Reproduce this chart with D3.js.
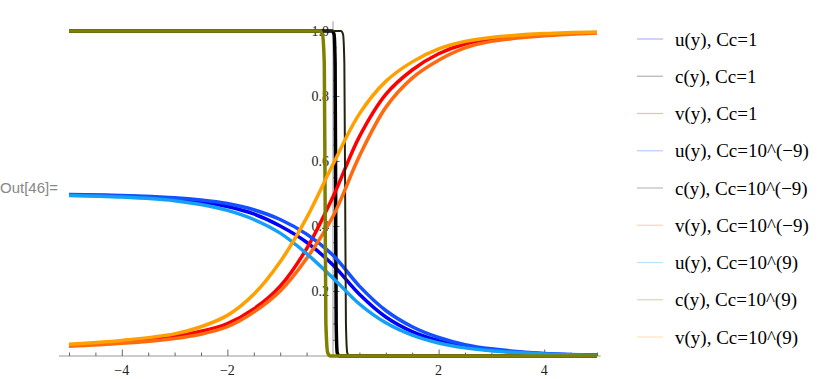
<!DOCTYPE html>
<html>
<head>
<meta charset="utf-8">
<script src="https://cdn.jsdelivr.net/npm/d3@7"></script>
<style>
  body { margin: 0; background: #fff; }
  svg { display: block; }
</style>
</head>
<body>
<svg id="chart"></svg>
<script>
// sample points along y for u and v
const xs = [-5, -4, -3, -2.5, -2, -1.5, -1, -0.5, 0, 0.5, 1, 1.5, 2, 2.5, 3, 4, 5];

// u(y)
const u1  = [0.496, 0.492, 0.483, 0.474, 0.46, 0.437, 0.4, 0.35, 0.28, 0.19, 0.12, 0.075, 0.047, 0.029, 0.018, 0.007, 0.003];
const uM9 = [0.497, 0.494, 0.487, 0.48, 0.469, 0.45, 0.42, 0.375, 0.31, 0.215, 0.14, 0.09, 0.057, 0.035, 0.022, 0.008, 0.003];
const uP9 = [0.494, 0.489, 0.478, 0.466, 0.448, 0.42, 0.378, 0.315, 0.24, 0.16, 0.102, 0.064, 0.04, 0.025, 0.016, 0.006, 0.002];

// v(y)
const v1  = [0.032, 0.043, 0.06, 0.076, 0.1, 0.145, 0.215, 0.33, 0.49, 0.675, 0.805, 0.88, 0.93, 0.96, 0.975, 0.988, 0.995];
const vM9 = [0.03, 0.039, 0.054, 0.067, 0.09, 0.135, 0.2, 0.3, 0.43, 0.615, 0.765, 0.855, 0.91, 0.948, 0.968, 0.985, 0.994];
const vP9 = [0.036, 0.048, 0.068, 0.09, 0.125, 0.19, 0.29, 0.425, 0.59, 0.745, 0.845, 0.905, 0.945, 0.968, 0.98, 0.992, 0.997];

// c(y) is a sharp step, so it has its own points
const cVals = [1, 1, 0.99, 0.9, 0.5, 0.1, 0.01, 0, 0];
const c1X  = [-5, -0.02, 0.02, 0.04, 0.05, 0.06, 0.08, 0.12, 5];
const cM9X = [-5, 0.15, 0.19, 0.215, 0.23, 0.245, 0.27, 0.31, 5];
const cP9X = [-5, -0.26, -0.2, -0.165, -0.15, -0.135, -0.1, -0.05, 5];

const legendLabels = [
    "u(y), Cc=1", "c(y), Cc=1", "v(y), Cc=1",
    "u(y), Cc=10^(\u22129)", "c(y), Cc=10^(\u22129)", "v(y), Cc=10^(\u22129)",
    "u(y), Cc=10^(9)", "c(y), Cc=10^(9)", "v(y), Cc=10^(9)"
];
const colors = ["#0000ff", "#000000", "#ff0000",
                "#1450ff", "#24240e", "#ff6a10",
                "#14a0f5", "#808000", "#ffa000"];
const widths = [3.5, 3.5, 3.5, 3.5, 2, 3.5, 3.5, 3.5, 3.5];

const xTicks = [-4, -2, 2, 4];
const yTicks = [0.2, 0.4, 0.6, 0.8, 1.0];

const serif = "Liberation Serif, Times New Roman, serif";

function drawChart(svgSelector, width, height) {
    const svg = d3.select(svgSelector)
        .attr("width", width)
        .attr("height", height);

    const x = d3.scaleLinear().domain([-5, 5]).range([69, 597]);
    const y = d3.scaleLinear().domain([0, 1]).range([356, 31]);

    // Out[...] label on the left
    svg.append("text")
        .attr("x", 0)
        .attr("y", 187)
        .attr("dominant-baseline", "central")
        .style("font-family", "Liberation Sans, Arial, sans-serif")
        .style("font-size", "15px")
        .attr("fill", "#888")
        .text("Out[46]=");

    // axes, Mathematica style: through the origin, ticks inside
    const gx = svg.append("g").attr("transform", `translate(0,${y(0)})`);
    gx.append("line")
        .attr("x1", x(-5.19)).attr("x2", x(5.07))
        .attr("stroke", "#999").attr("stroke-width", 1);
    gx.append("g")
        .call(d3.axisBottom(x).tickValues(d3.range(-5, 5.01, 0.5).filter(d => d !== 0 && d % 2 !== 0))
            .tickSize(-3.5).tickFormat(""));
    gx.append("g")
        .call(d3.axisBottom(x).tickValues(xTicks).tickSize(-6.5).tickFormat(""));

    const gy = svg.append("g").attr("transform", `translate(${x(0)},0)`);
    gy.append("line")
        .attr("y1", y(0)).attr("y2", y(1.03))
        .attr("stroke", "#999").attr("stroke-width", 1);
    gy.append("g")
        .call(d3.axisLeft(y).tickValues(d3.range(0.05, 1.001, 0.05).filter(d => Math.abs(d * 5 - Math.round(d * 5)) > 0.01))
            .tickSize(-3.5).tickFormat(""));
    gy.append("g")
        .call(d3.axisLeft(y).tickValues(yTicks).tickSize(-6.5).tickFormat(""));

    svg.selectAll(".domain").remove();
    svg.selectAll(".tick line").attr("stroke", "#666");

    // tick labels
    gx.selectAll(".xlab")
        .data(xTicks)
        .enter().append("text")
        .attr("class", "xlab")
        .attr("x", d => x(d))
        .attr("y", 19)
        .attr("text-anchor", "middle")
        .style("font-family", serif)
        .style("font-size", "14px")
        .attr("fill", "#222")
        .text(d => d3.format("d")(d));

    gy.selectAll(".ylab")
        .data(yTicks)
        .enter().append("text")
        .attr("class", "ylab")
        .attr("x", -4)
        .attr("y", d => y(d))
        .attr("dy", "0.35em")
        .attr("text-anchor", "end")
        .style("font-family", serif)
        .style("font-size", "14px")
        .attr("fill", "#222")
        .text(d => d3.format(".1f")(d));

    // series in plotting order
    const series = [
        { xs: xs, ys: u1 }, { xs: c1X, ys: cVals, step: true }, { xs: xs, ys: v1 },
        { xs: xs, ys: uM9 }, { xs: cM9X, ys: cVals, step: true }, { xs: xs, ys: vM9 },
        { xs: xs, ys: uP9 }, { xs: cP9X, ys: cVals, step: true }, { xs: xs, ys: vP9 }
    ];

    const smooth = d3.line()
        .x(d => x(d[0]))
        .y(d => y(d[1]))
        .curve(d3.curveCatmullRom.alpha(0.5));
    const steep = d3.line()
        .x(d => x(d[0]))
        .y(d => y(d[1]))
        .curve(d3.curveMonotoneX);

    svg.append("g")
        .selectAll("path")
        .data(series)
        .enter().append("path")
        .attr("d", s => (s.step ? steep : smooth)(s.xs.map((v, i) => [v, s.ys[i]])))
        .attr("fill", "none")
        .attr("stroke", (s, i) => colors[i])
        .attr("stroke-width", (s, i) => widths[i])
        .attr("stroke-linejoin", "round");

    // legend with pale swatches
    const legend = svg.append("g")
        .selectAll("g")
        .data(legendLabels)
        .enter().append("g")
        .attr("transform", (d, i) => `translate(637,${39 + i * 37.25})`);

    legend.append("line")
        .attr("x1", 0).attr("x2", 26)
        .attr("stroke", (d, i) => d3.interpolateRgb(colors[i], "#fff")(0.7))
        .attr("stroke-width", 1.2);

    legend.append("text")
        .attr("x", 38)
        .attr("dominant-baseline", "central")
        .style("font-family", serif)
        .style("font-size", "19px")
        .attr("fill", "#000")
        .text(d => d);
}

drawChart("#chart", 830, 379);
</script>
</body>
</html>
